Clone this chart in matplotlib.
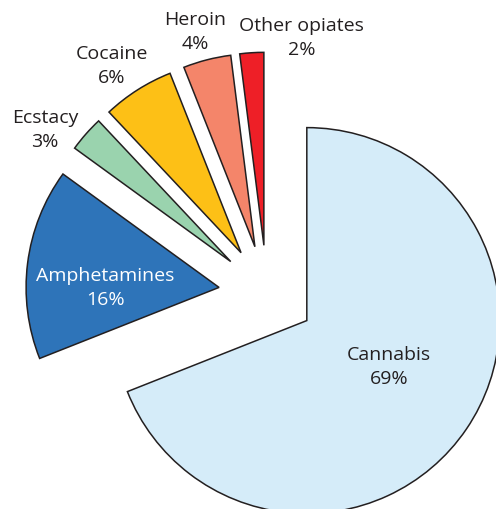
import matplotlib.pyplot as plt

labels = ['Cannabis', 'Amphetamines', 'Ecstacy', 'Cocaine', 'Heroin', 'Other opiates']
shares = [69, 16, 3, 6, 4, 2]
colors = ['#d5ecf9', '#2e74b9', '#9ad3ae', '#fdc016', '#f4856a', '#ee1f27']

# where each label sits (data coords) and its colour
label_pos = [(0.632, -0.376), (-0.839, 0.034), (-1.150, 0.852),
             (-0.803, 1.184), (-0.373, 1.360), (0.181, 1.329)]
label_col = ['#231f20', 'white', '#231f20', '#231f20', '#231f20', '#231f20']

fig = plt.figure(figsize=(4.96, 5.10), dpi=100)
ax = fig.add_axes([0, 0, 1, 1])

ax.pie(shares, colors=colors, startangle=90, counterclock=False,
       explode=[0.25] * len(shares),
       wedgeprops=dict(edgecolor='#231f20', linewidth=1.1))

for name, val, (x, y), c in zip(labels, shares, label_pos, label_col):
    ax.text(x, y, f'{name}\n{val}%', ha='center', va='center',
            fontsize=14, family='Open Sans', color=c, linespacing=1.45)

ax.set_xlim(-1.383, 1.187)
ax.set_ylim(-1.117, 1.526)
ax.set_aspect('equal')
ax.axis('off')

fig.savefig('out.png', dpi=100)
